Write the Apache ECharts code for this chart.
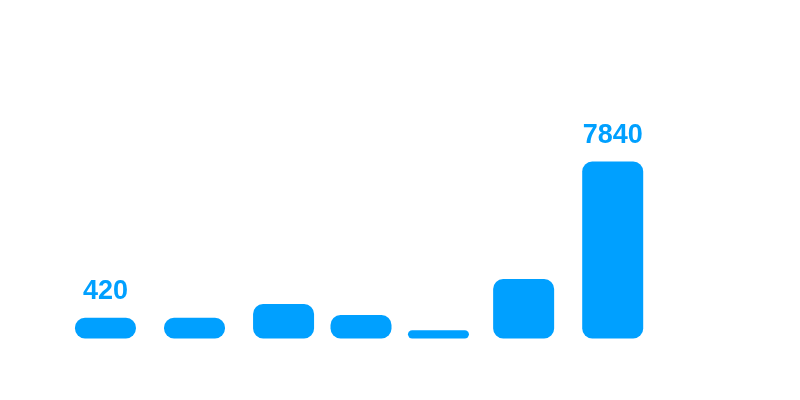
<!DOCTYPE html>
<html>
<head>
<meta charset="utf-8">
<script src="https://cdn.jsdelivr.net/npm/echarts@6/dist/echarts.min.js"></script>
<style>
html,body{margin:0;padding:0;background:#fff;}
#chart{width:800px;height:400px;}
</style>
</head>
<body>
<div id="chart"></div>
<script>
// positions along the (hidden) x value axis
var xValues = [0, 23, 46, 66, 86, 108, 131];
// bar values
var values = [420, 420, 543, 442, 333, 868, 7840];
// which bars carry a value label
var labelled = [true, false, false, false, false, false, true];

var barColor = '#00a0ff';

var seriesData = xValues.map(function (x, i) {
  var item = { value: [x, values[i]] };
  if (labelled[i]) {
    item.label = { show: true };
  }
  return item;
});

var chart = echarts.init(document.getElementById('chart'));
chart.setOption({
  animation: false,
  backgroundColor: '#ffffff',
  grid: { left: 28, right: 75, top: 62.5, bottom: 61.5 },
  xAxis: {
    type: 'value',
    min: -20,
    max: 160,
    show: false
  },
  yAxis: {
    type: 'log',
    min: 285,
    max: 50000,
    show: false
  },
  series: [{
    type: 'bar',
    barWidth: 61,
    data: seriesData,
    itemStyle: { color: barColor, borderRadius: 10 },
    label: {
      show: false,
      position: 'top',
      distance: 12.5,
      color: barColor,
      fontSize: 27,
      fontWeight: 'bold',
      fontFamily: 'Liberation Sans, Arial, sans-serif',
      formatter: function (p) { return p.value[1]; }
    }
  }]
});
</script>
</body>
</html>
